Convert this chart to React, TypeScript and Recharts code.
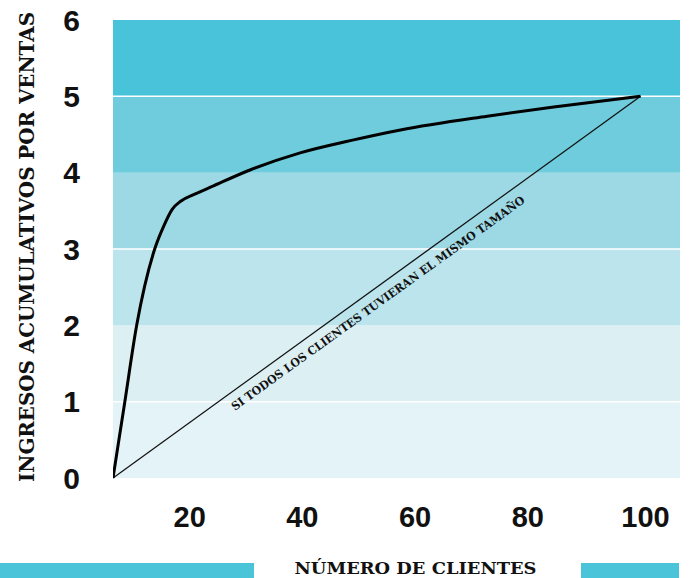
import { LineChart, Line, XAxis, YAxis, ReferenceArea, ReferenceLine, ReferenceDot } from "recharts";

// curve
const curveX = [6.4, 8.5, 10.6, 13.8, 15.4, 16.9, 18.4, 20.8, 24.0, 30.7, 39.6, 48.5, 57.4, 72.8, 84.6, 100];
const curveY = [0, 1, 2, 3, 3.3, 3.52, 3.625, 3.715, 3.82, 4.035, 4.26, 4.42, 4.56, 4.74, 4.86, 5];

// equal-size reference line
const diagX = [6.4, 100];
const diagY = [0, 5];

const xTicks = [20, 40, 60, 80, 100];
const yTicks = [0, 1, 2, 3, 4, 5, 6];

const bandFrom = [0, 1, 2, 3, 4, 5];
const bandColors = ["#E4F3F7", "#DCEFF3", "#BBE4EC", "#9DD9E5", "#6FCCDD", "#49C3D9"];
const whiteLines = [1, 3, 5];

const diagLabel = "SI TODOS LOS CLIENTES TUVIERAN EL MISMO TAMAÑO";
const labelAt = { x: 53.4, y: 2.29 };

const curve = curveX.map((x, i) => ({ x, y: curveY[i] }));
const diag = diagX.map((x, i) => ({ x, y: diagY[i] }));

const SERIF = "'DejaVu Serif', 'Liberation Serif', serif";
const SANS = "'Liberation Sans', Arial, sans-serif";

function YTick({ y, payload }: any) {
  return (
    <text x={80} y={y} dy="0.36em" textAnchor="end" fontFamily={SANS} fontWeight="bold" fontSize={30} fill="#111">
      {payload.value}
    </text>
  );
}

function XTick({ x, payload }: any) {
  return (
    <text x={x + (payload.value === 100 ? 5 : 0)} y={517} dy="0.36em" textAnchor="middle" fontFamily={SANS} fontWeight="bold" fontSize={29} fill="#111">
      {payload.value}
    </text>
  );
}

function DiagText({ cx, cy }: any) {
  return (
    <text
      x={cx}
      y={cy}
      dy="0.35em"
      textAnchor="middle"
      fontFamily={SERIF}
      fontWeight="bold"
      fontSize={11.5}
      fill="#111"
      textLength={358}
      lengthAdjust="spacingAndGlyphs"
      transform={`rotate(-35.7 ${cx} ${cy})`}
    >
      {diagLabel}
    </text>
  );
}

export default function App() {
  return (
    <div style={{ position: "absolute", left: 0, top: 0, width: 690, height: 578, background: "#fff" }}>
      <LineChart width={690} height={578} margin={{ top: 20, right: 10, left: 0, bottom: 0 }}>
        {bandFrom.map((b, i) => (
          <ReferenceArea key={b} y1={b} y2={b + 1} fill={bandColors[i]} fillOpacity={1} stroke="none" ifOverflow="extendDomain" />
        ))}
        {whiteLines.map((v) => (
          <ReferenceLine key={v} y={v} stroke="#fff" strokeWidth={1.5} />
        ))}
        <XAxis
          dataKey="x"
          type="number"
          domain={[6.4, 107]}
          ticks={xTicks}
          allowDataOverflow
          axisLine={false}
          tickLine={false}
          height={100}
          tick={<XTick />}
        />
        <YAxis
          type="number"
          domain={[0, 6]}
          ticks={yTicks}
          axisLine={false}
          tickLine={false}
          width={113}
          tick={<YTick />}
        />
        <Line data={diag} dataKey="y" type="linear" stroke="#111" strokeWidth={1.3} dot={false} isAnimationActive={false} />
        <Line data={curve} dataKey="y" type="monotone" stroke="#000" strokeWidth={3} dot={false} isAnimationActive={false} />
        <ReferenceDot x={labelAt.x} y={labelAt.y} r={0} shape={<DiagText />} />
      </LineChart>
      <svg width={690} height={578} style={{ position: "absolute", left: 0, top: 0, pointerEvents: "none" }}>
        <text
          transform="translate(27 247) rotate(-90)"
          textAnchor="middle"
          dy="0.35em"
          fontFamily={SERIF}
          fontWeight="bold"
          fontSize={20}
          fill="#111"
          textLength={470}
          lengthAdjust="spacingAndGlyphs"
        >
          INGRESOS ACUMULATIVOS POR VENTAS
        </text>
        <rect x={0} y={563} width={254} height={15} fill="#4AC4D9" />
        <rect x={581} y={563} width={98} height={15} fill="#4AC4D9" />
        <text x={415.5} y={574} textAnchor="middle" fontFamily={SERIF} fontWeight="bold" fontSize={17} fill="#111" textLength={242} lengthAdjust="spacingAndGlyphs">
          NÚMERO DE CLIENTES
        </text>
      </svg>
    </div>
  );
}
